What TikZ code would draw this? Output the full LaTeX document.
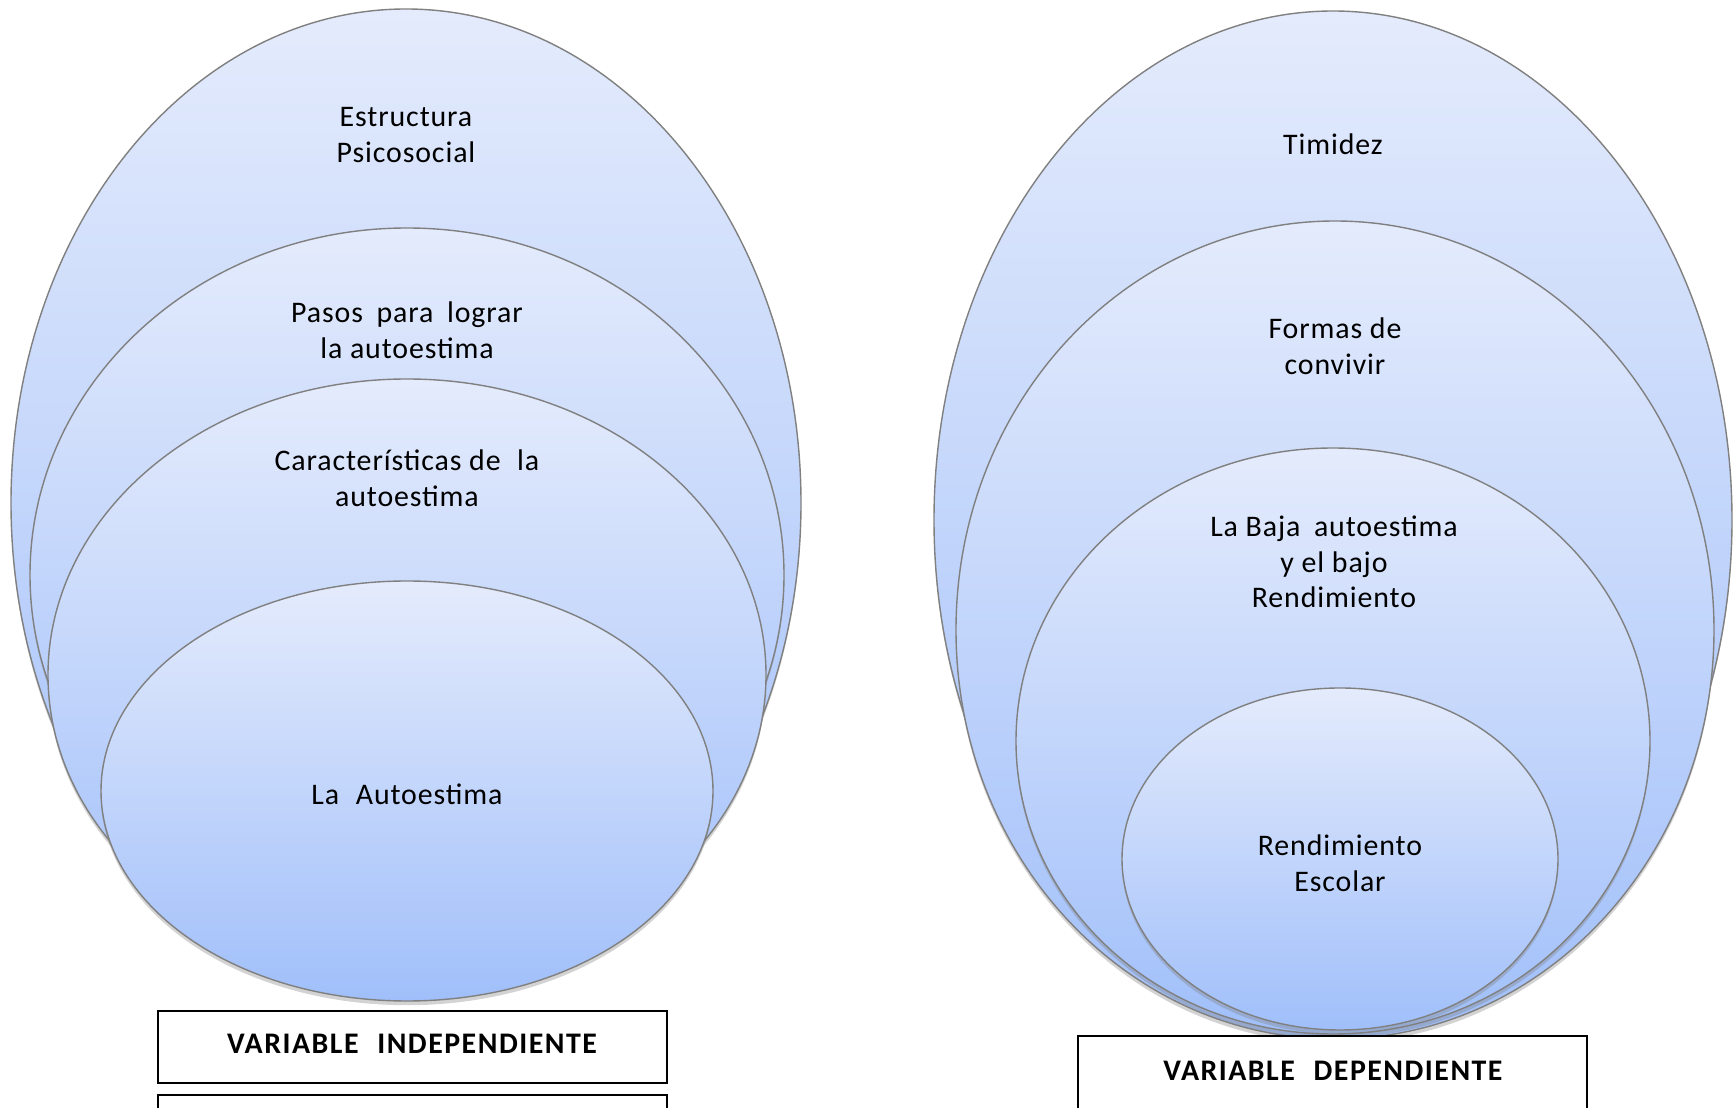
\documentclass[tikz,border=0pt]{standalone}
\usepackage{fontspec}
\setmainfont{Carlito}[LetterSpace=3]
\newfontfamily\cajafont{Carlito}[LetterSpace=5]
\usetikzlibrary{shadows}
\definecolor{capaArriba}{RGB}{228,235,252}
\definecolor{capaAbajo}{RGB}{160,191,250}
\begin{document}
\begin{tikzpicture}[
		capa/.style={draw=black!50, line width=0.4pt, top color=capaArriba, bottom color=capaAbajo,
			drop shadow={shadow xshift=0pt, shadow yshift=-1.2pt, opacity=0.35}},
		texto/.style={align=center, font=\fontsize{8.5}{10.1}\selectfont},
		caja/.style={draw=black, line width=0.8pt, fill=white}]
		\useasboundingbox (0,0) rectangle (17.34,11.08);
		\clip (0,0) rectangle (17.34,11.08);
		% variable independiente
		\draw[capa] (4.06,6.05) ellipse (3.95 and 4.94);
		\draw[capa] (4.07,5.33) ellipse (3.77 and 3.47);
		\draw[capa] (4.07,4.33) ellipse (3.59 and 2.96);
		\draw[capa] (4.07,3.17) ellipse (3.06 and 2.10);
		\node[texto] (estructura) at (4.06,9.73) {Estructura\\Psicosocial};
		\node[texto] (pasos) at (4.07,7.78) {Pasos\hspace{0.2em} para\hspace{0.2em} lograr\\la autoestima};
		\node[texto] (caracteristicas) at (4.07,6.30) {Características de\hspace{0.3em} la\\autoestima};
		\node[texto] (autoestima) at (4.07,3.14) {La\hspace{0.3em} Autoestima};
		\draw[caja] (1.58,0.25) rectangle (6.67,0.97);
		\node[font=\cajafont\fontsize{8.5}{10.1}\selectfont\bfseries] (independiente) at (4.12,0.64) {VARIABLE\hspace{0.35em} INDEPENDIENTE};
		\draw[caja] (1.58,-0.5) rectangle (6.67,0.13);
		% variable dependiente
		\draw[capa] (13.33,5.88) ellipse (3.99 and 5.09);
		\draw[capa] (13.35,4.78) ellipse (3.79 and 4.09);
		\draw[capa] (13.33,3.67) ellipse (3.17 and 2.93);
		\draw[capa] (13.40,2.49) ellipse (2.18 and 1.71);
		\node[texto] (timidez) at (13.33,9.64) {Timidez};
		\node[texto] (formas) at (13.35,7.62) {Formas de\\convivir};
		\node[texto] (baja) at (13.34,5.46) {La Baja\hspace{0.2em} autoestima\\y el bajo\\Rendimiento};
		\node[texto] (rendimiento) at (13.40,2.45) {Rendimiento\\Escolar};
		\draw[caja] (10.78,-0.5) rectangle (15.87,0.72);
		\node[font=\cajafont\fontsize{8.5}{10.1}\selectfont\bfseries] (dependiente) at (13.33,0.375) {VARIABLE\hspace{0.35em} DEPENDIENTE};
\end{tikzpicture}
\end{document}
